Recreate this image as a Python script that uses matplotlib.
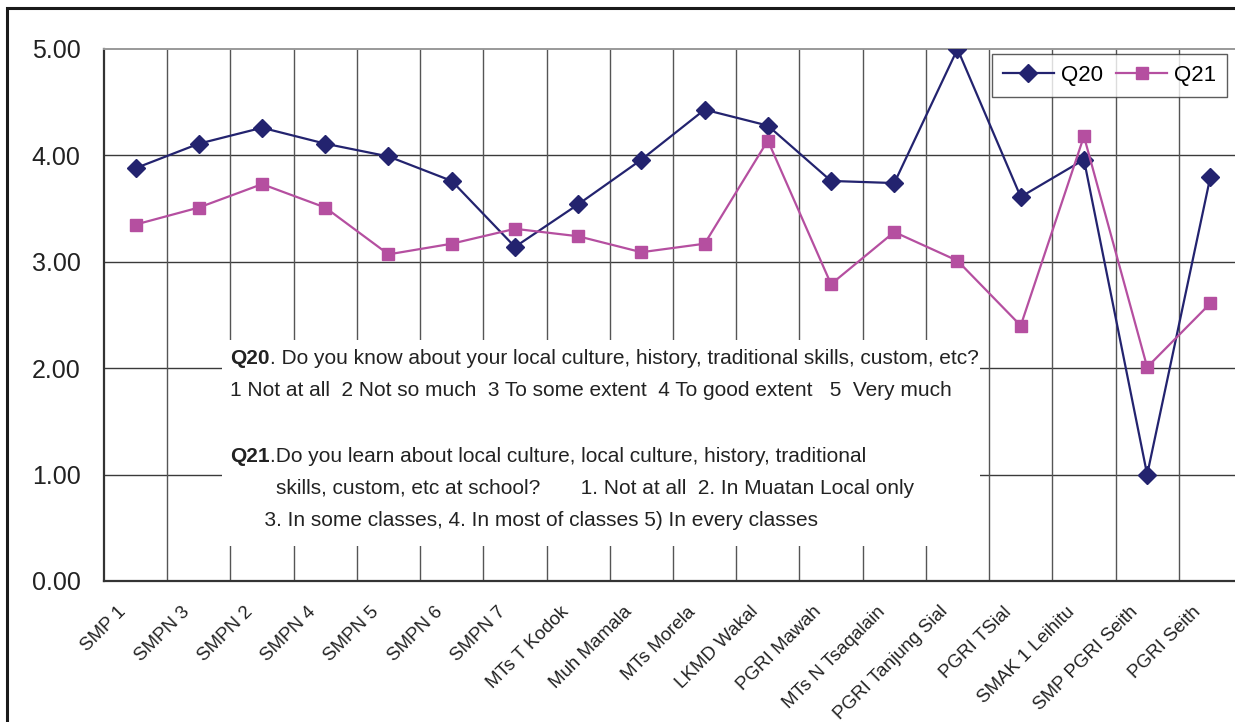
import matplotlib
matplotlib.use("Agg")
import matplotlib.pyplot as plt
from matplotlib import font_manager
from matplotlib.patches import Rectangle
from matplotlib.transforms import ScaledTranslation

schools = [
    "SMP 1", "SMPN 3", "SMPN 2", "SMPN 4", "SMPN 5", "SMPN 6", "SMPN 7",
    "MTs T Kodok", "Muh Mamala", "MTs Morela", "LKMD Wakal", "PGRI Mawah",
    "MTs N Tsaqalain", "PGRI Tanjung Sial", "PGRI TSial", "SMAK 1 Leihitu",
    "SMP PGRI Seith", "PGRI Seith",
]
q20 = [3.88, 4.11, 4.26, 4.11, 3.99, 3.76, 3.14, 3.54, 3.96, 4.43, 4.28,
       3.76, 3.74, 5.00, 3.61, 3.96, 1.00, 3.80]
q21 = [3.35, 3.51, 3.73, 3.51, 3.07, 3.17, 3.31, 3.24, 3.09, 3.17, 4.14,
       2.79, 3.28, 3.01, 2.40, 4.18, 2.01, 2.61]
y_ticks = [0, 1, 2, 3, 4, 5]

note_lines = [
    ("Q20", ". Do you know about your local culture, history, traditional skills, custom, etc?"),
    ("", "1 Not at all  2 Not so much  3 To some extent  4 To good extent   5  Very much"),
    ("Q21", ".Do you learn about local culture, local culture, history, traditional"),
    ("", "        skills, custom, etc at school?       1. Not at all  2. In Muatan Local only"),
    ("", "      3. In some classes, 4. In most of classes 5) In every classes"),
]

installed = {f.name for f in font_manager.fontManager.ttflist}
base_font = "Liberation Sans" if "Liberation Sans" in installed else "DejaVu Sans"
narrow_font = "Liberation Sans Narrow" if "Liberation Sans Narrow" in installed else base_font
note_size = 16.5 if narrow_font != base_font else 15
plt.rcParams["font.family"] = [base_font, "DejaVu Sans"]

W, H = 1235, 722
fig = plt.figure(figsize=(W / 100, H / 100), dpi=100)
ax = fig.add_axes([104 / W, 1 - 581 / H, 1138 / W, (581 - 49) / H])

# outer frame (only left and top are visible in the source)
fig.patches.append(Rectangle((7 / W, -0.1), 1.2, 1.1 - 8 / H, transform=fig.transFigure,
                             fill=False, edgecolor="#1a1a1a", linewidth=2.2))

x = [i + 0.5 for i in range(len(schools))]
ax.set_xlim(0, len(schools))
ax.set_ylim(0, 5)

# grid
for yv in y_ticks[1:-1]:
    ax.axhline(yv, color="#3a3a3a", linewidth=1.0, zorder=1)
for i in range(1, len(schools)):
    ax.axvline(i, color="#555555", linewidth=1.0, zorder=1)

ax.plot(x, q20, color="#23236f", marker="D", markersize=9, linewidth=1.6,
        label="Q20", zorder=4)
ax.plot(x, q21, color="#b54fa0", marker="s", markersize=8.5, linewidth=1.6,
        label="Q21", zorder=4)

for side in ["left", "bottom"]:
    ax.spines[side].set_color("#333333")
    ax.spines[side].set_linewidth(1.6)
ax.spines["top"].set_color("#999999")
ax.spines["top"].set_linewidth(1.4)
ax.spines["right"].set_visible(False)

ax.set_yticks(y_ticks)
ax.set_yticklabels([f"{v:.2f}" for v in y_ticks], fontsize=18, color="#222222")
ax.tick_params(axis="y", length=0, pad=17)
ax.set_xticks(x)
ax.set_xticklabels(schools, rotation=45, ha="right", rotation_mode="anchor",
                   fontsize=13.5, color="#222222")
ax.tick_params(axis="x", length=0, pad=16)
shift = ScaledTranslation(-18 / 100, 0, fig.dpi_scale_trans)
for lbl in ax.get_xticklabels():
    lbl.set_transform(lbl.get_transform() + shift)

ax_w, ax_h = 1138, 532
leg = ax.legend(loc="upper right", bbox_to_anchor=((1227 - 104) / ax_w, (581 - 54) / ax_h),
                ncol=2, fontsize=16, frameon=True, fancybox=False, edgecolor="#333333",
                handlelength=2.3, columnspacing=0.6, handletextpad=0.3,
                borderpad=0.5, borderaxespad=0)
leg.get_frame().set_linewidth(1.0)

# white note box over the grid
ax.add_patch(Rectangle((222, H - 546), 758, 206, transform=None, facecolor="white",
                       edgecolor="none", zorder=2))

fig.canvas.draw()
renderer = fig.canvas.get_renderer()
line_y = [358, 390, 457, 489, 521]
for (head, rest), py in zip(note_lines, line_y):
    px = 230
    ypos = H - py
    if head:
        t = fig.text(px / W, ypos / H, head, fontsize=note_size, fontweight="bold",
                     family=narrow_font, va="center", ha="left", color="#222222")
        px += t.get_window_extent(renderer).width
    fig.text(px / W, ypos / H, rest, fontsize=note_size, family=narrow_font,
             va="center", ha="left", color="#222222")

fig.savefig("out.png", dpi=100)
